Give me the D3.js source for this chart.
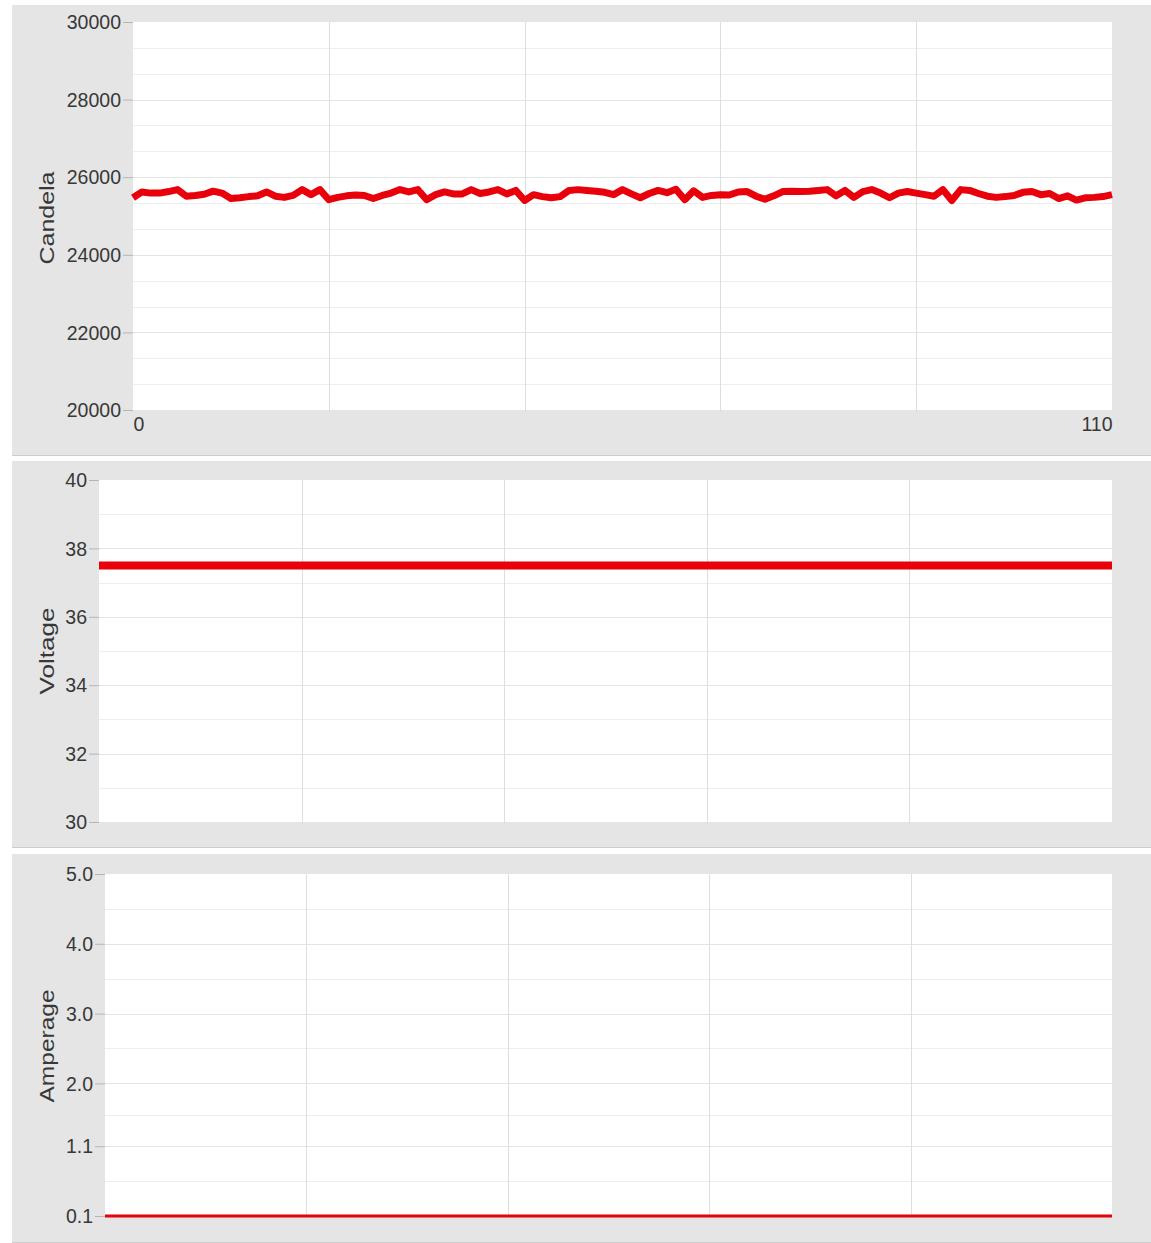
<!DOCTYPE html>
<html>
<head>
<meta charset="utf-8">
<script src="https://cdn.jsdelivr.net/npm/d3@7"></script>
<style>
  html, body { margin: 0; padding: 0; background: #ffffff; }
  svg { display: block; }
  text { font-family: "Liberation Sans", Arial, Helvetica, sans-serif; }
</style>
</head>
<body>
<svg id="chart" width="1151" height="1243"></svg>
<script>
// ---------- data ----------
const xDomain = [0, 110];
const xTickLabels = ["0", "110"];

const candela = [
  25470, 25620, 25590, 25590, 25630, 25680, 25510, 25530, 25560, 25640,
  25590, 25450, 25470, 25500, 25520, 25620, 25510, 25480, 25530, 25680,
  25550, 25680, 25420, 25480, 25520, 25540, 25530, 25450, 25530, 25590,
  25680, 25620, 25680, 25420, 25550, 25620, 25570, 25570, 25680, 25580,
  25620, 25680, 25570, 25660, 25400, 25550, 25500, 25470, 25500, 25660,
  25680, 25660, 25640, 25610, 25550, 25680, 25570, 25470, 25580, 25660,
  25600, 25690, 25420, 25650, 25480, 25530, 25550, 25540, 25620, 25630,
  25510, 25430, 25520, 25630, 25640, 25630, 25640, 25660, 25680, 25520,
  25660, 25480, 25630, 25680, 25590, 25470, 25590, 25630, 25590, 25550,
  25510, 25680, 25400, 25680, 25660, 25580, 25510, 25480, 25500, 25530,
  25610, 25630, 25550, 25580, 25450, 25520, 25410, 25470, 25480, 25500,
  25550
];

const voltage = [
  37.5, 37.5, 37.5, 37.5, 37.5, 37.5, 37.5, 37.5, 37.5, 37.5,
  37.5, 37.5, 37.5, 37.5, 37.5, 37.5, 37.5, 37.5, 37.5, 37.5,
  37.5, 37.5, 37.5, 37.5, 37.5, 37.5, 37.5, 37.5, 37.5, 37.5,
  37.5, 37.5, 37.5, 37.5, 37.5, 37.5, 37.5, 37.5, 37.5, 37.5,
  37.5, 37.5, 37.5, 37.5, 37.5, 37.5, 37.5, 37.5, 37.5, 37.5,
  37.5, 37.5, 37.5, 37.5, 37.5, 37.5, 37.5, 37.5, 37.5, 37.5,
  37.5, 37.5, 37.5, 37.5, 37.5, 37.5, 37.5, 37.5, 37.5, 37.5,
  37.5, 37.5, 37.5, 37.5, 37.5, 37.5, 37.5, 37.5, 37.5, 37.5,
  37.5, 37.5, 37.5, 37.5, 37.5, 37.5, 37.5, 37.5, 37.5, 37.5,
  37.5, 37.5, 37.5, 37.5, 37.5, 37.5, 37.5, 37.5, 37.5, 37.5,
  37.5, 37.5, 37.5, 37.5, 37.5, 37.5, 37.5, 37.5, 37.5, 37.5,
  37.5
];

const amperage = [
  0.1, 0.1, 0.1, 0.1, 0.1, 0.1, 0.1, 0.1, 0.1, 0.1,
  0.1, 0.1, 0.1, 0.1, 0.1, 0.1, 0.1, 0.1, 0.1, 0.1,
  0.1, 0.1, 0.1, 0.1, 0.1, 0.1, 0.1, 0.1, 0.1, 0.1,
  0.1, 0.1, 0.1, 0.1, 0.1, 0.1, 0.1, 0.1, 0.1, 0.1,
  0.1, 0.1, 0.1, 0.1, 0.1, 0.1, 0.1, 0.1, 0.1, 0.1,
  0.1, 0.1, 0.1, 0.1, 0.1, 0.1, 0.1, 0.1, 0.1, 0.1,
  0.1, 0.1, 0.1, 0.1, 0.1, 0.1, 0.1, 0.1, 0.1, 0.1,
  0.1, 0.1, 0.1, 0.1, 0.1, 0.1, 0.1, 0.1, 0.1, 0.1,
  0.1, 0.1, 0.1, 0.1, 0.1, 0.1, 0.1, 0.1, 0.1, 0.1,
  0.1, 0.1, 0.1, 0.1, 0.1, 0.1, 0.1, 0.1, 0.1, 0.1,
  0.1, 0.1, 0.1, 0.1, 0.1, 0.1, 0.1, 0.1, 0.1, 0.1,
  0.1
];

const candelaTicks = [20000, 22000, 24000, 26000, 28000, 30000];
const voltageTicks = [30, 32, 34, 36, 38, 40];
const amperageTicks = [0.1, 1.1, 2.0, 3.0, 4.0, 5.0];
const amperageTickLabels = ["0.1", "1.1", "2.0", "3.0", "4.0", "5.0"];

const titles = ["Candela", "Voltage", "Amperage"];

// ---------- layout ----------
const W = 1151;
const panels = [
  { title: titles[0], values: candela, ticks: candelaTicks, labels: candelaTicks.map(String),
    domain: [20000, 30000], sub: 3, bg: [5, 456], plot: { l: 133, r: 1112, t: 22, b: 410 },
    stroke: 7, titleY: 218, titleLen: 93, showX: true },
  { title: titles[1], values: voltage, ticks: voltageTicks, labels: voltageTicks.map(String),
    domain: [30, 40], sub: 2, bg: [461, 848], plot: { l: 99, r: 1112, t: 480, b: 822 },
    stroke: 8, titleY: 651, titleLen: 87, showX: false },
  { title: titles[2], values: amperage, ticks: amperageTicks, labels: amperageTickLabels,
    domain: [0.1, 5.0], sub: 2, bg: [854, 1243], plot: { l: 105, r: 1112, t: 874, b: 1216 },
    stroke: 3, titleY: 1046, titleLen: 113, showX: false }
];

const svg = d3.select("#chart");

panels.forEach(p => {
  const g = svg.append("g");
  // grey panel background
  g.append("rect").attr("x", 12).attr("y", p.bg[0]).attr("width", W - 12)
    .attr("height", p.bg[1] - p.bg[0]).attr("fill", "#e5e5e5");
  g.append("line").attr("x1", 12).attr("x2", W).attr("y1", p.bg[1] - 0.5).attr("y2", p.bg[1] - 0.5)
    .attr("stroke", "#cdcdcd").attr("stroke-width", 1);

  const x = d3.scaleLinear().domain(xDomain).range([p.plot.l, p.plot.r]);
  const y = d3.scaleLinear().domain(p.domain).range([p.plot.b, p.plot.t]);

  // white plot area
  g.append("rect").attr("x", p.plot.l).attr("y", p.plot.t)
    .attr("width", p.plot.r - p.plot.l).attr("height", p.plot.b - p.plot.t).attr("fill", "#ffffff");

  // minor gridlines
  const minor = [];
  for (let i = 0; i < p.ticks.length - 1; i++) {
    for (let k = 1; k < p.sub; k++) {
      minor.push(p.ticks[i] + (p.ticks[i + 1] - p.ticks[i]) * k / p.sub);
    }
  }
  g.append("g").selectAll("line").data(minor).join("line")
    .attr("x1", p.plot.l).attr("x2", p.plot.r)
    .attr("y1", d => Math.round(y(d)) + 0.5).attr("y2", d => Math.round(y(d)) + 0.5)
    .attr("stroke", "#eeeeee").attr("stroke-width", 1);

  // major gridlines
  g.append("g").selectAll("line").data(p.ticks.slice(1, -1)).join("line")
    .attr("x1", p.plot.l).attr("x2", p.plot.r)
    .attr("y1", d => Math.round(y(d)) + 0.5).attr("y2", d => Math.round(y(d)) + 0.5)
    .attr("stroke", "#e4e4e4").attr("stroke-width", 1);

  // vertical gridlines
  const xg = d3.range(1, 5).map(i => xDomain[0] + (xDomain[1] - xDomain[0]) * i / 5);
  g.append("g").selectAll("line").data(xg).join("line")
    .attr("x1", d => Math.round(x(d)) + 0.5).attr("x2", d => Math.round(x(d)) + 0.5)
    .attr("y1", p.plot.t).attr("y2", p.plot.b + 2)
    .attr("stroke", "#dedede").attr("stroke-width", 1);

  // y axis
  const axis = d3.axisLeft(y).tickValues(p.ticks)
    .tickFormat((d, i) => p.labels[i]).tickSize(10).tickPadding(2);
  const ag = g.append("g").attr("transform", `translate(${p.plot.l},0)`).call(axis);
  ag.select(".domain").remove();
  ag.selectAll(".tick line").attr("stroke", "#b5b5b5");
  ag.selectAll(".tick text").attr("fill", "#383838").style("font-size", "19.5px")
    .attr("dy", "0.34em");

  // x axis labels (top panel only)
  if (p.showX) {
    const xa = d3.axisBottom(x).tickValues(xDomain).tickFormat((d, i) => xTickLabels[i])
      .tickSize(0).tickPadding(7);
    const xgp = g.append("g").attr("transform", `translate(0,${p.plot.b})`).call(xa);
    xgp.select(".domain").remove();
    xgp.selectAll(".tick text").attr("fill", "#383838").style("font-size", "19.5px")
      .attr("text-anchor", (d, i) => i === 0 ? "start" : "end");
  }

  // title
  g.append("text")
    .attr("transform", `translate(54,${p.titleY}) rotate(-90)`)
    .attr("text-anchor", "middle")
    .attr("fill", "#383838")
    .style("font-size", "21px")
    .attr("textLength", p.titleLen)
    .attr("lengthAdjust", "spacingAndGlyphs")
    .text(p.title);

  // series line
  const line = d3.line().x((d, i) => x(i)).y(d => y(d)).curve(d3.curveLinear);
  g.append("path").datum(p.values)
    .attr("d", line)
    .attr("fill", "none")
    .attr("stroke", "#e8000b")
    .attr("stroke-width", p.stroke)
    .attr("stroke-linejoin", "round")
    .attr("stroke-linecap", "butt");
});
</script>
</body>
</html>
